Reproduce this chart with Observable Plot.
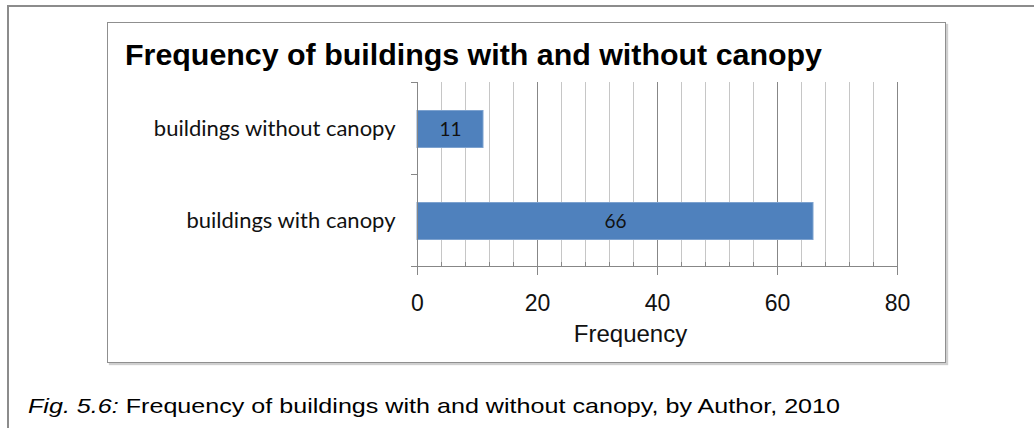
<!DOCTYPE html>
<html>
<head>
<meta charset="utf-8">
<script src="https://cdn.jsdelivr.net/npm/d3@7"></script>
<script src="https://cdn.jsdelivr.net/npm/@observablehq/plot@0.6"></script>
<style>
  html, body { margin: 0; padding: 0; background: #fff; }
  #page { position: relative; width: 1034px; height: 428px; overflow: hidden; background: #fff; }
  #outer { position: absolute; left: 7px; top: 5px; right: -20px; bottom: -20px; border: 2px solid #8c8c8c; }
  #inner { position: absolute; left: 107px; top: 22px; width: 837px; height: 339px; border: 1.5px solid #8f8f8f; box-shadow: 2px 2px 1px #cfcfcf; }
  #title { position: absolute; left: 125px; top: 41px; font: bold 29px "Liberation Sans", Arial, sans-serif; line-height: 29px; color: #000; white-space: nowrap; transform-origin: 0 0; }
  #caption { position: absolute; left: 28px; top: 395px; font: 21px "Liberation Sans", Arial, sans-serif; line-height: 21px; color: #000; white-space: nowrap; transform-origin: 0 0; }
  #chart { position: absolute; left: 0; top: 0; }
</style>
</head>
<body>
<div id="page">
  <div id="outer"></div>
  <div id="inner"></div>
  <div id="chart"></div>
  <div id="title"></div>
  <div id="caption"></div>
</div>
<script>
// ---- data ----
const titleText = "Frequency of buildings with and without canopy";
const categories = ["buildings without canopy", "buildings with canopy"];
const values = [11, 66];
const xLabel = "Frequency";
const xDomain = [0, 80];
const majorTicks = [0, 20, 40, 60, 80];
const minorTicks = [4, 8, 12, 16, 24, 28, 32, 36, 44, 48, 52, 56, 64, 68, 72, 76];
const captionLead = "Fig. 5.6:";
const captionText = " Frequency of buildings with and without canopy, by Author, 2010";

const data = categories.map((c, i) => ({category: c, value: values[i]}));

const W = 1034, H = 428, mL = 417, mR = 137, mT = 82, mB = 162;
const halfBand = (H - mT - mB) / categories.length / 2;
const gray = "#878787";

const chart = Plot.plot({
  width: W, height: H,
  marginLeft: mL, marginRight: mR, marginTop: mT, marginBottom: mB,
  style: {background: "transparent", overflow: "visible"},
  x: {domain: xDomain, axis: null},
  y: {domain: categories, padding: 0, axis: null},
  marks: [
    Plot.ruleX(minorTicks, {stroke: "#c6c6c6", strokeWidth: 1}),
    Plot.ruleX(majorTicks, {stroke: gray, strokeWidth: 1}),
    Plot.barX(data, {x: "value", y: "category", fill: "#4f81bd", stroke: "#7da2cf", strokeWidth: 1, insetTop: 28.5, insetBottom: 26.5}),
    Plot.text(data, {x: d => d.value / 2, y: "category", text: d => String(d.value), dy: 1.5,
      fontSize: 19, fontFamily: "Lato, 'Open Sans', sans-serif", fill: "#111"}),
    Plot.axisY({label: null, tickSize: 0, tickPadding: 22, fontSize: 22, fontFamily: "Lato, 'Open Sans', sans-serif", fill: "#111"}),
    Plot.axisX(majorTicks, {label: null, tickSize: 9, tickPadding: 19, stroke: gray, fontSize: 23,
      fontFamily: "'Liberation Sans Narrow', 'Liberation Sans', Arial, sans-serif", fill: "#111"}),
    Plot.axisX(minorTicks, {label: null, tickSize: -4, text: null, stroke: gray}),
    Plot.ruleY(categories, {y: d => d, x1: -1, x2: 0, dy: -halfBand, stroke: gray}),
    Plot.ruleY(categories.slice(-1), {y: d => d, x1: -1, x2: 0, dy: halfBand, stroke: gray}),
    Plot.frame({anchor: "left", stroke: gray}),
    Plot.frame({anchor: "bottom", stroke: gray}),
    Plot.text([xLabel], {frameAnchor: "bottom", dy: 75, dx: -27, fontSize: 24, letterSpacing: "1.5px",
      fontFamily: "'Liberation Sans', Arial, sans-serif", fill: "#111"})
  ]
});
document.getElementById("chart").appendChild(chart);

const title = document.getElementById("title");
title.textContent = titleText;
title.style.transform = `scaleX(${697 / title.getBoundingClientRect().width})`;

const cap = document.getElementById("caption");
const it = document.createElement("i");
it.textContent = captionLead;
cap.appendChild(it);
cap.appendChild(document.createTextNode(captionText));
cap.style.transform = `scaleX(${812 / cap.getBoundingClientRect().width})`;
</script>
</body>
</html>
